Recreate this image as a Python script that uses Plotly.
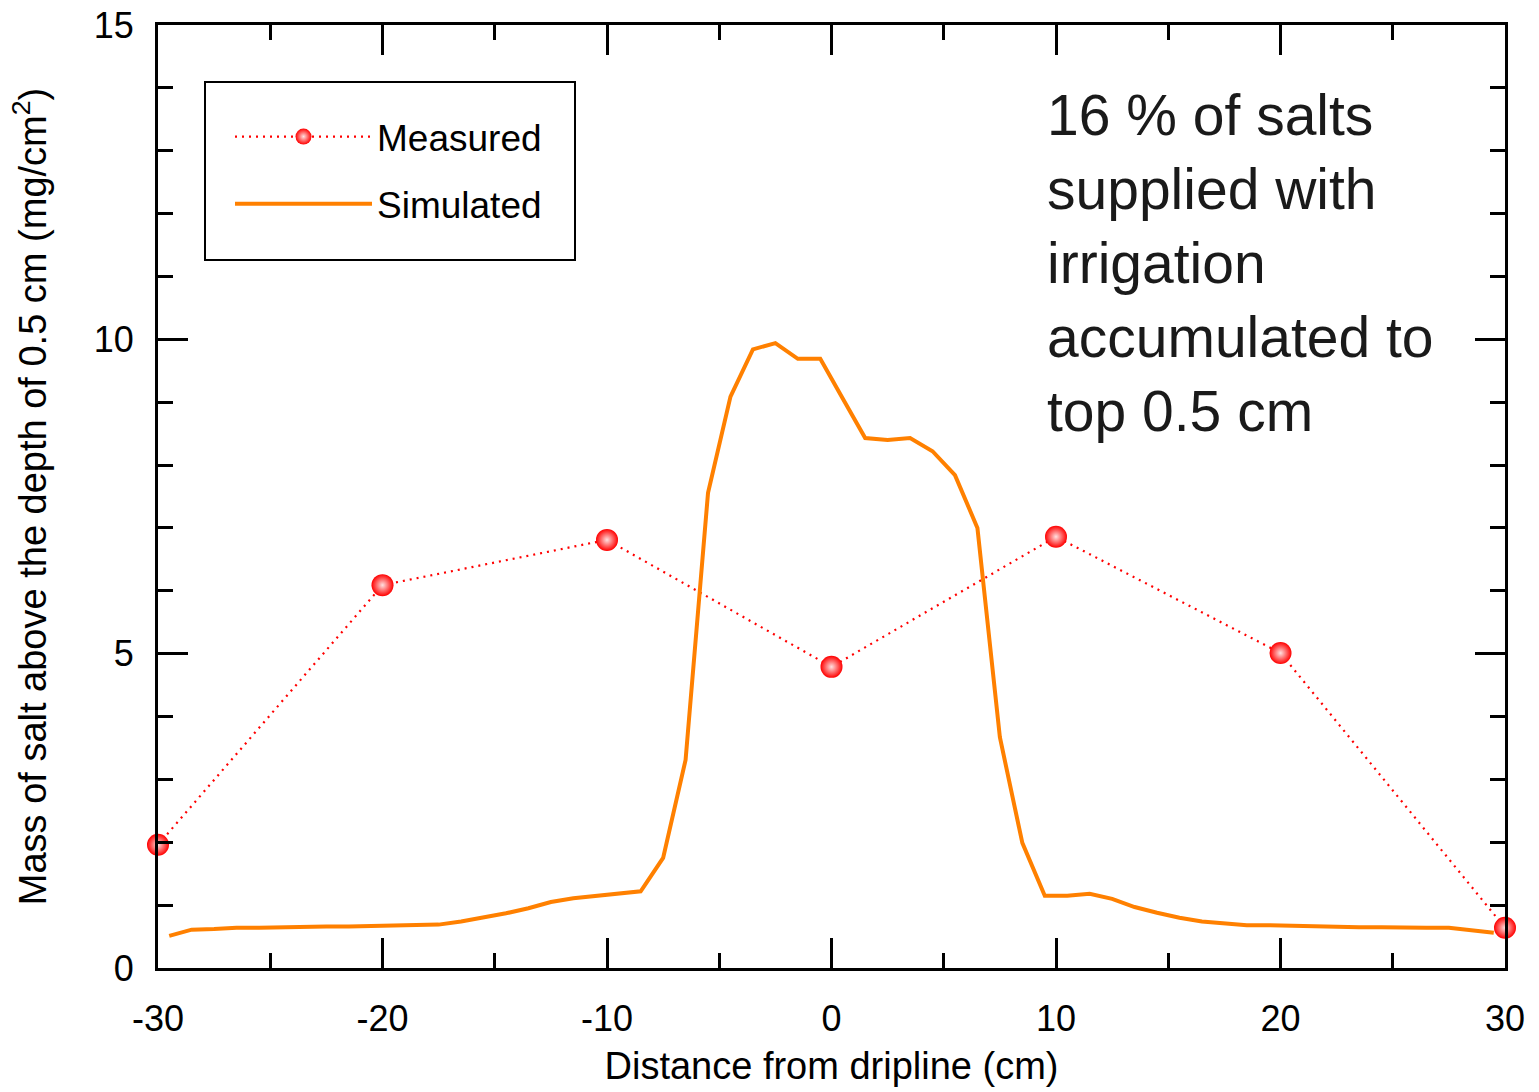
import plotly.graph_objects as go

# Measured data
meas_x = [-30, -20, -10, 0, 10, 20, 30]
meas_y = [1.96, 6.09, 6.81, 4.79, 6.86, 5.01, 0.64]

# Simulated data
sim_x = [-29.5, -28.5, -27.5, -26.5, -25.5, -24.5, -23.5, -22.5, -21.5, -20.5,
         -19.5, -18.5, -17.5, -16.5, -15.5, -14.5, -13.5, -12.5, -11.5, -10.5,
         -9.5, -8.5, -7.5, -6.5, -5.5, -4.5, -3.5, -2.5, -1.5, -0.5,
         0.5, 1.5, 2.5, 3.5, 4.5, 5.5, 6.5, 7.5, 8.5, 9.5,
         10.5, 11.5, 12.5, 13.5, 14.5, 15.5, 16.5, 17.5, 18.5, 19.5,
         20.5, 21.5, 22.5, 23.5, 24.5, 25.5, 26.5, 27.5, 28.5, 29.5]
sim_y = [0.51, 0.61, 0.62, 0.64, 0.64, 0.65, 0.65, 0.66, 0.66, 0.67,
         0.67, 0.68, 0.69, 0.74, 0.80, 0.87, 0.95, 1.05, 1.11, 1.15,
         1.18, 1.22, 1.75, 3.31, 7.56, 9.09, 9.84, 9.94, 9.69, 9.69,
         9.06, 8.43, 8.40, 8.43, 8.22, 7.84, 7.00, 3.67, 1.99, 1.15,
         1.15, 1.18, 1.10, 0.97, 0.88, 0.80, 0.74, 0.71, 0.68, 0.68,
         0.67, 0.67, 0.66, 0.65, 0.65, 0.64, 0.64, 0.64, 0.60, 0.56]

x_tickvals = [-30, -20, -10, 0, 10, 20, 30]
x_ticktext = ["-30", "-20", "-10", "0", "10", "20", "30"]
y_tickvals = [0, 5, 10, 15]
y_ticktext = ["0", "5", "10", "15"]

note_lines = ["16 % of salts", "supplied with", "irrigation", "accumulated to", "top 0.5 cm"]

FONT = "Liberation Sans, Arial, Helvetica, sans-serif"

# plot-area geometry (pixels) used to place legend frame in paper coords
W, H = 1539, 1092
ML, MR, MT, MB = 158, 34, 25, 124
PW, PH = W - ML - MR, H - MT - MB


def px_x(px):
    return (px - ML) / PW


def px_y(py):
    return 1 - (py - MT) / PH


fig = go.Figure()
fig.add_trace(go.Scatter(
    x=meas_x, y=meas_y, mode="lines+markers", name="Measured",
    legendgroup="a",
    line=dict(color="#ff0000", width=2.2, dash="2px,5px"),
    marker=dict(size=22, color="#ff0000",
                gradient=dict(type="radial", color="#ffe0e0"),
                line=dict(width=0)),
    cliponaxis=False,
))
fig.add_trace(go.Scatter(
    x=sim_x, y=sim_y, mode="lines", name="Simulated",
    legendgroup="b",
    line=dict(color="#ff8000", width=4),
))

axis_common = dict(
    showgrid=False, zeroline=False, showline=True, linecolor="black",
    linewidth=3, mirror="allticks", ticks="inside", tickcolor="black",
    tickwidth=3, ticklen=30, automargin=False,
    tickfont=dict(family=FONT, size=36, color="black"),
)

fig.update_xaxes(
    range=[-30, 30], tickvals=x_tickvals, ticktext=x_ticktext,
    minor=dict(dtick=5, ticks="inside", ticklen=15, tickwidth=3, tickcolor="black", showgrid=False),
    title=dict(text="Distance from dripline (cm)", font=dict(family=FONT, size=38, color="black"), standoff=15),
    ticklabelstandoff=17,
    **axis_common,
)
fig.update_yaxes(
    range=[0, 15], tickvals=y_tickvals, ticktext=y_ticktext,
    minor=dict(dtick=1, ticks="inside", ticklen=15, tickwidth=3, tickcolor="black", showgrid=False),
    title=dict(text="Mass of salt above the depth of 0.5 cm (mg/cm<sup>2</sup>)",
               font=dict(family=FONT, size=38, color="black"), standoff=36),
    ticklabelstandoff=14,
    **axis_common,
)

fig.add_annotation(
    x=px_x(1045), y=0.9408, xref="paper", yref="paper", xanchor="left", yanchor="top",
    text="<br>".join(note_lines), showarrow=False, align="left",
    font=dict(family=FONT, size=57, color="#1a1a1a"),
)

# legend frame
fig.add_shape(type="rect", xref="paper", yref="paper",
              x0=px_x(205), x1=px_x(575), y0=px_y(260), y1=px_y(82),
              line=dict(color="black", width=2), fillcolor="white", layer="below")

fig.update_layout(
    width=W, height=H,
    margin=dict(l=ML, r=MR, t=MT, b=MB),
    paper_bgcolor="white", plot_bgcolor="rgba(0,0,0,0)",
    showlegend=True,
    legend=dict(
        x=px_x(230), y=px_y(106), xanchor="left", yanchor="top",
        borderwidth=0, bgcolor="rgba(0,0,0,0)",
        font=dict(family=FONT, size=37, color="black"),
        itemwidth=137, tracegroupgap=16, traceorder="grouped",
    ),
)

fig.write_html("out.html")
